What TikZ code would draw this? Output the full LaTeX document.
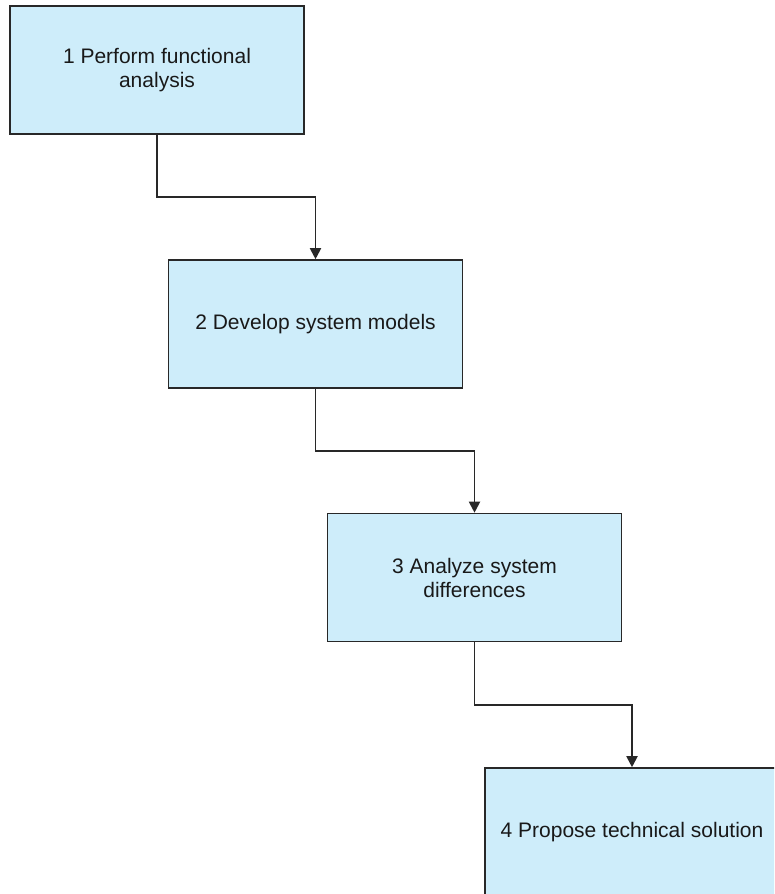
\documentclass[tikz,border=0pt]{standalone}
\usepackage{fontspec}
\setmainfont{Liberation Sans}
\usetikzlibrary{calc,arrows.meta}
\definecolor{boxfill}{RGB}{206,237,250}
\definecolor{boxline}{RGB}{40,40,40}
\definecolor{txt}{RGB}{25,25,25}
\tikzset{
  stage/.style={draw=boxline, line width=1.6pt, fill=boxfill, rectangle,
    minimum width=294pt, minimum height=128pt, inner sep=0pt,
    align=center, text=txt,
    font=\fontsize{21pt}{24pt}\selectfont},
  flow/.style={draw=boxline, line width=1.9pt,
    -{Triangle[length=11pt,width=11pt]}}
}
\begin{document}
\begin{tikzpicture}[x=1pt,y=-1pt]
  \useasboundingbox (0,0) rectangle (774,894);
  \clip (0,0) rectangle (774,894);
  \fill[white] (0,0) rectangle (774,894);

  \node[stage] (s1) at (157,70)    {1 Perform functional\\analysis};
  \node[stage] (s2) at (315.5,324) {2 Develop system models};
  \node[stage] (s3) at (474.5,577.5) {3 Analyze system\\differences};
  \node[stage] (s4) at (632,832)   {4 Propose technical solution};

  \draw[flow] (s1.south) |- ($(s1.south)!.5!(s2.north)$) -| (s2.north);
  \draw[flow] (s2.south) |- ($(s2.south)!.5!(s3.north)$) -| (s3.north);
  \draw[flow] (s3.south) |- ($(s3.south)!.5!(s4.north)$) -| (s4.north);
\end{tikzpicture}
\end{document}
